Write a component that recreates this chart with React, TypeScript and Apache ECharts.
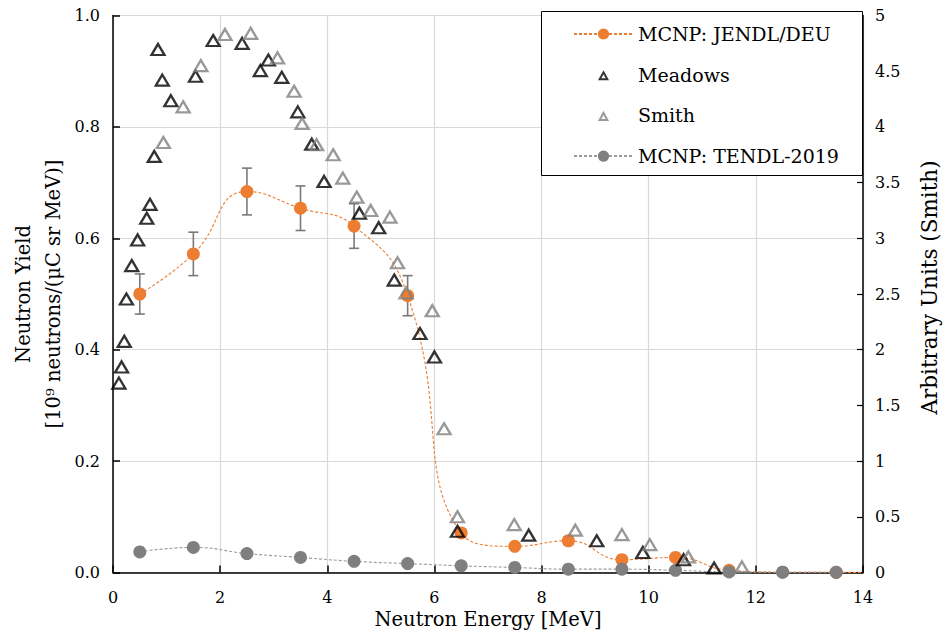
import React, { useEffect, useRef } from "react";
import * as echarts from "echarts";

// MCNP: JENDL/DEU (left axis) with statistical error bars
const jendlEnergy = [0.5, 1.5, 2.5, 3.5, 4.5, 5.5, 6.5, 7.5, 8.5, 9.5, 10.5, 11.5, 12.5, 13.5, 14];
const jendlYield = [0.5, 0.572, 0.684, 0.654, 0.622, 0.497, 0.071, 0.047, 0.057, 0.023, 0.027, 0.004, 0.0005, 0.0003, 0];
const jendlError = [0.036, 0.039, 0.042, 0.04, 0.04, 0.036, 0.006, 0.004, 0.007, 0.002, 0.002, 0.0005, 0, 0, 0];

// MCNP: TENDL-2019 (left axis)
const tendlEnergy = [0.5, 1.5, 2.5, 3.5, 4.5, 5.5, 6.5, 7.5, 8.5, 9.5, 10.5, 11.5, 12.5, 13.5];
const tendlYield = [0.037, 0.045, 0.034, 0.027, 0.02, 0.016, 0.012, 0.009, 0.006, 0.006, 0.004, 0.001, 0.0005, 0.0003];

// Meadows (left axis)
const meadowsEnergy = [
  0.11, 0.16, 0.21, 0.25, 0.35, 0.46, 0.63, 0.69, 0.77, 0.84, 0.92, 1.08, 1.54, 1.87, 2.41, 2.75,
  2.9, 3.15, 3.45, 3.71, 3.94, 4.6, 4.96, 5.25, 5.73, 6.0, 6.43, 7.76, 9.03, 9.89, 10.65, 11.22,
];
const meadowsYield = [
  0.34, 0.369, 0.415, 0.491, 0.551, 0.597, 0.636, 0.661, 0.747, 0.939, 0.884, 0.847, 0.891, 0.955, 0.95, 0.901,
  0.92, 0.889, 0.827, 0.769, 0.702, 0.645, 0.619, 0.525, 0.429, 0.387, 0.074, 0.067, 0.057, 0.036, 0.023, 0.008,
];

// Smith (right axis, arbitrary units)
const smithEnergy = [
  0.94, 1.31, 1.64, 2.09, 2.57, 3.07, 3.38, 3.53, 3.8, 4.11, 4.29, 4.55, 4.81, 5.17, 5.31, 5.47,
  5.96, 6.18, 6.43, 7.49, 8.63, 9.5, 10.02, 10.74, 11.74,
];
const smithUnits = [
  3.86, 4.18, 4.55, 4.83, 4.84, 4.62, 4.32, 4.03, 3.84, 3.75, 3.54, 3.37, 3.25, 3.19, 2.78, 2.51,
  2.35, 1.29, 0.5, 0.43, 0.38, 0.34, 0.25, 0.14, 0.05,
];

const legendNames = ["MCNP: JENDL/DEU", "Meadows", "Smith", "MCNP: TENDL-2019"];
const xAxisName = "Neutron Energy [MeV]";
const yAxisName = "Neutron Yield\n[10\u2079 neutrons/(\u03bcC sr MeV)]";
const y2AxisName = "Arbitrary Units (Smith)";

const FONT = "DejaVu Serif";
const ORANGE = "#ED7D31";
const GRAY = "#7f7f7f";
const TRI_ICON = "path://M0,0M20,20M4.5,16.5L10,6.5L15.5,16.5Z";

export default function App() {
  const ref = useRef<HTMLDivElement>(null);

  useEffect(() => {
    if (!ref.current) return;
    const chart = echarts.init(ref.current, null, { renderer: "svg" });

    const jendlData = jendlEnergy.map((x, i) =>
      x === 14 ? { value: [x, jendlYield[i]], symbol: "none" } : [x, jendlYield[i]]
    );
    const errData = jendlEnergy
      .map((x, i) => [x, jendlYield[i], jendlError[i]])
      .filter((d) => d[2] > 0);

    const option: any = {
      animation: false,
      backgroundColor: "#ffffff",
      textStyle: { fontFamily: FONT, color: "#000" },
      grid: {
        left: 113,
        right: 80,
        top: 15.5,
        bottom: 59.5,
        containLabel: false,
        outerBoundsMode: "none",
      },
      legend: {
        orient: "vertical",
        left: 573,
        top: 24,
        itemWidth: 59,
        itemHeight: 14,
        itemGap: 20.7,
        padding: 0,
        z: 20,
        textStyle: { fontFamily: FONT, fontSize: 19, color: "#000", lineHeight: 20 },
        data: [
          { name: legendNames[0] },
          { name: legendNames[1], icon: TRI_ICON },
          { name: legendNames[2], icon: TRI_ICON },
          { name: legendNames[3] },
        ],
      },
      graphic: [
        {
          type: "rect",
          z: 10,
          shape: { x: 541.5, y: 11.5, width: 321, height: 164 },
          style: { fill: "#fff", stroke: "#000", lineWidth: 1 },
        },
      ],
      xAxis: {
        type: "value",
        min: 0,
        max: 14,
        interval: 2,
        name: xAxisName,
        nameLocation: "middle",
        nameGap: 37,
        nameMoveOverlap: false,
        nameTextStyle: { fontFamily: FONT, fontSize: 19.5, color: "#000", lineHeight: 20 },
        axisLine: { lineStyle: { color: "#000", width: 1.5 } },
        axisTick: { inside: true, length: 7, lineStyle: { color: "#000", width: 1.5 } },
        axisLabel: { fontFamily: FONT, fontSize: 16, color: "#000", margin: 16, lineHeight: 17 },
        splitLine: { show: true, lineStyle: { color: "#d9d9d9", width: 1.2 } },
      },
      yAxis: [
        {
          type: "value",
          min: 0,
          max: 1,
          interval: 0.2,
          name: yAxisName,
          nameLocation: "middle",
          nameGap: 45,
          nameMoveOverlap: false,
          nameTextStyle: { fontFamily: FONT, fontSize: 19.5, color: "#000", lineHeight: 30 },
          axisLine: { show: true, lineStyle: { color: "#000", width: 1.5 } },
          axisTick: { show: true, inside: true, length: 7, lineStyle: { color: "#000", width: 1.5 } },
          axisLabel: {
            fontFamily: FONT,
            fontSize: 16,
            color: "#000",
            margin: 13,
            formatter: (v: number) => v.toFixed(1),
          },
          splitLine: { show: true, lineStyle: { color: "#d9d9d9", width: 1.2 } },
        },
        {
          type: "value",
          min: 0,
          max: 5,
          interval: 0.5,
          name: y2AxisName,
          nameLocation: "middle",
          nameGap: 55,
          nameMoveOverlap: false,
          nameTextStyle: { fontFamily: FONT, fontSize: 21.5, color: "#000", padding: [0, 0, 0, 13] },
          axisLine: { show: true, lineStyle: { color: "#000", width: 1.5 } },
          axisTick: { show: true, inside: true, length: 6, lineStyle: { color: "#000", width: 1.2 } },
          axisLabel: { fontFamily: FONT, fontSize: 16, color: "#000", margin: 12 },
          splitLine: { show: false },
        },
      ],
      series: [
        {
          name: "errorbars",
          type: "custom",
          xAxisIndex: 0,
          yAxisIndex: 0,
          z: 2,
          data: errData,
          encode: { x: 0, y: 1 },
          renderItem: (params: any, api: any) => {
            const x = api.value(0);
            const y = api.value(1);
            const e = api.value(2);
            const hi = api.coord([x, y + e]);
            const lo = api.coord([x, y - e]);
            const hw = 5;
            const st = { stroke: "#7a7a7a", lineWidth: 1.6 };
            return {
              type: "group",
              children: [
                { type: "line", shape: { x1: hi[0], y1: hi[1], x2: lo[0], y2: lo[1] }, style: st },
                { type: "line", shape: { x1: hi[0] - hw, y1: hi[1], x2: hi[0] + hw, y2: hi[1] }, style: st },
                { type: "line", shape: { x1: lo[0] - hw, y1: lo[1], x2: lo[0] + hw, y2: lo[1] }, style: st },
              ],
            };
          },
        },
        {
          name: legendNames[0],
          type: "line",
          yAxisIndex: 0,
          z: 3,
          data: jendlData,
          smooth: 0.5,
          symbol: "circle",
          symbolSize: 13,
          showSymbol: true,
          itemStyle: { color: ORANGE },
          lineStyle: { color: ORANGE, width: 1.1, type: [3, 2] },
        },
        {
          name: legendNames[3],
          type: "line",
          yAxisIndex: 0,
          z: 4,
          data: tendlEnergy.map((x, i) => [x, tendlYield[i]]),
          smooth: 0.5,
          symbol: "circle",
          symbolSize: 13,
          itemStyle: { color: GRAY },
          lineStyle: { color: "#9a9a9a", width: 1.1, type: [3, 2] },
        },
        {
          name: legendNames[1],
          type: "scatter",
          yAxisIndex: 0,
          z: 5,
          data: meadowsEnergy.map((x, i) => [x, meadowsYield[i]]),
          symbol: "triangle",
          symbolSize: [13, 11],
          itemStyle: { color: "rgba(0,0,0,0)", borderColor: "#000", borderWidth: 2.3 },
        },
        {
          name: legendNames[2],
          type: "scatter",
          yAxisIndex: 1,
          z: 5,
          data: smithEnergy.map((x, i) => [x, smithUnits[i]]),
          symbol: "triangle",
          symbolSize: [13, 11],
          itemStyle: { color: "rgba(0,0,0,0)", borderColor: GRAY, borderWidth: 2.3 },
        },
      ],
    };

    chart.setOption(option);
    return () => chart.dispose();
  }, []);

  return (
    <div
      ref={ref}
      style={{ position: "fixed", left: 0, top: 0, width: 943, height: 632, background: "#fff" }}
    />
  );
}
